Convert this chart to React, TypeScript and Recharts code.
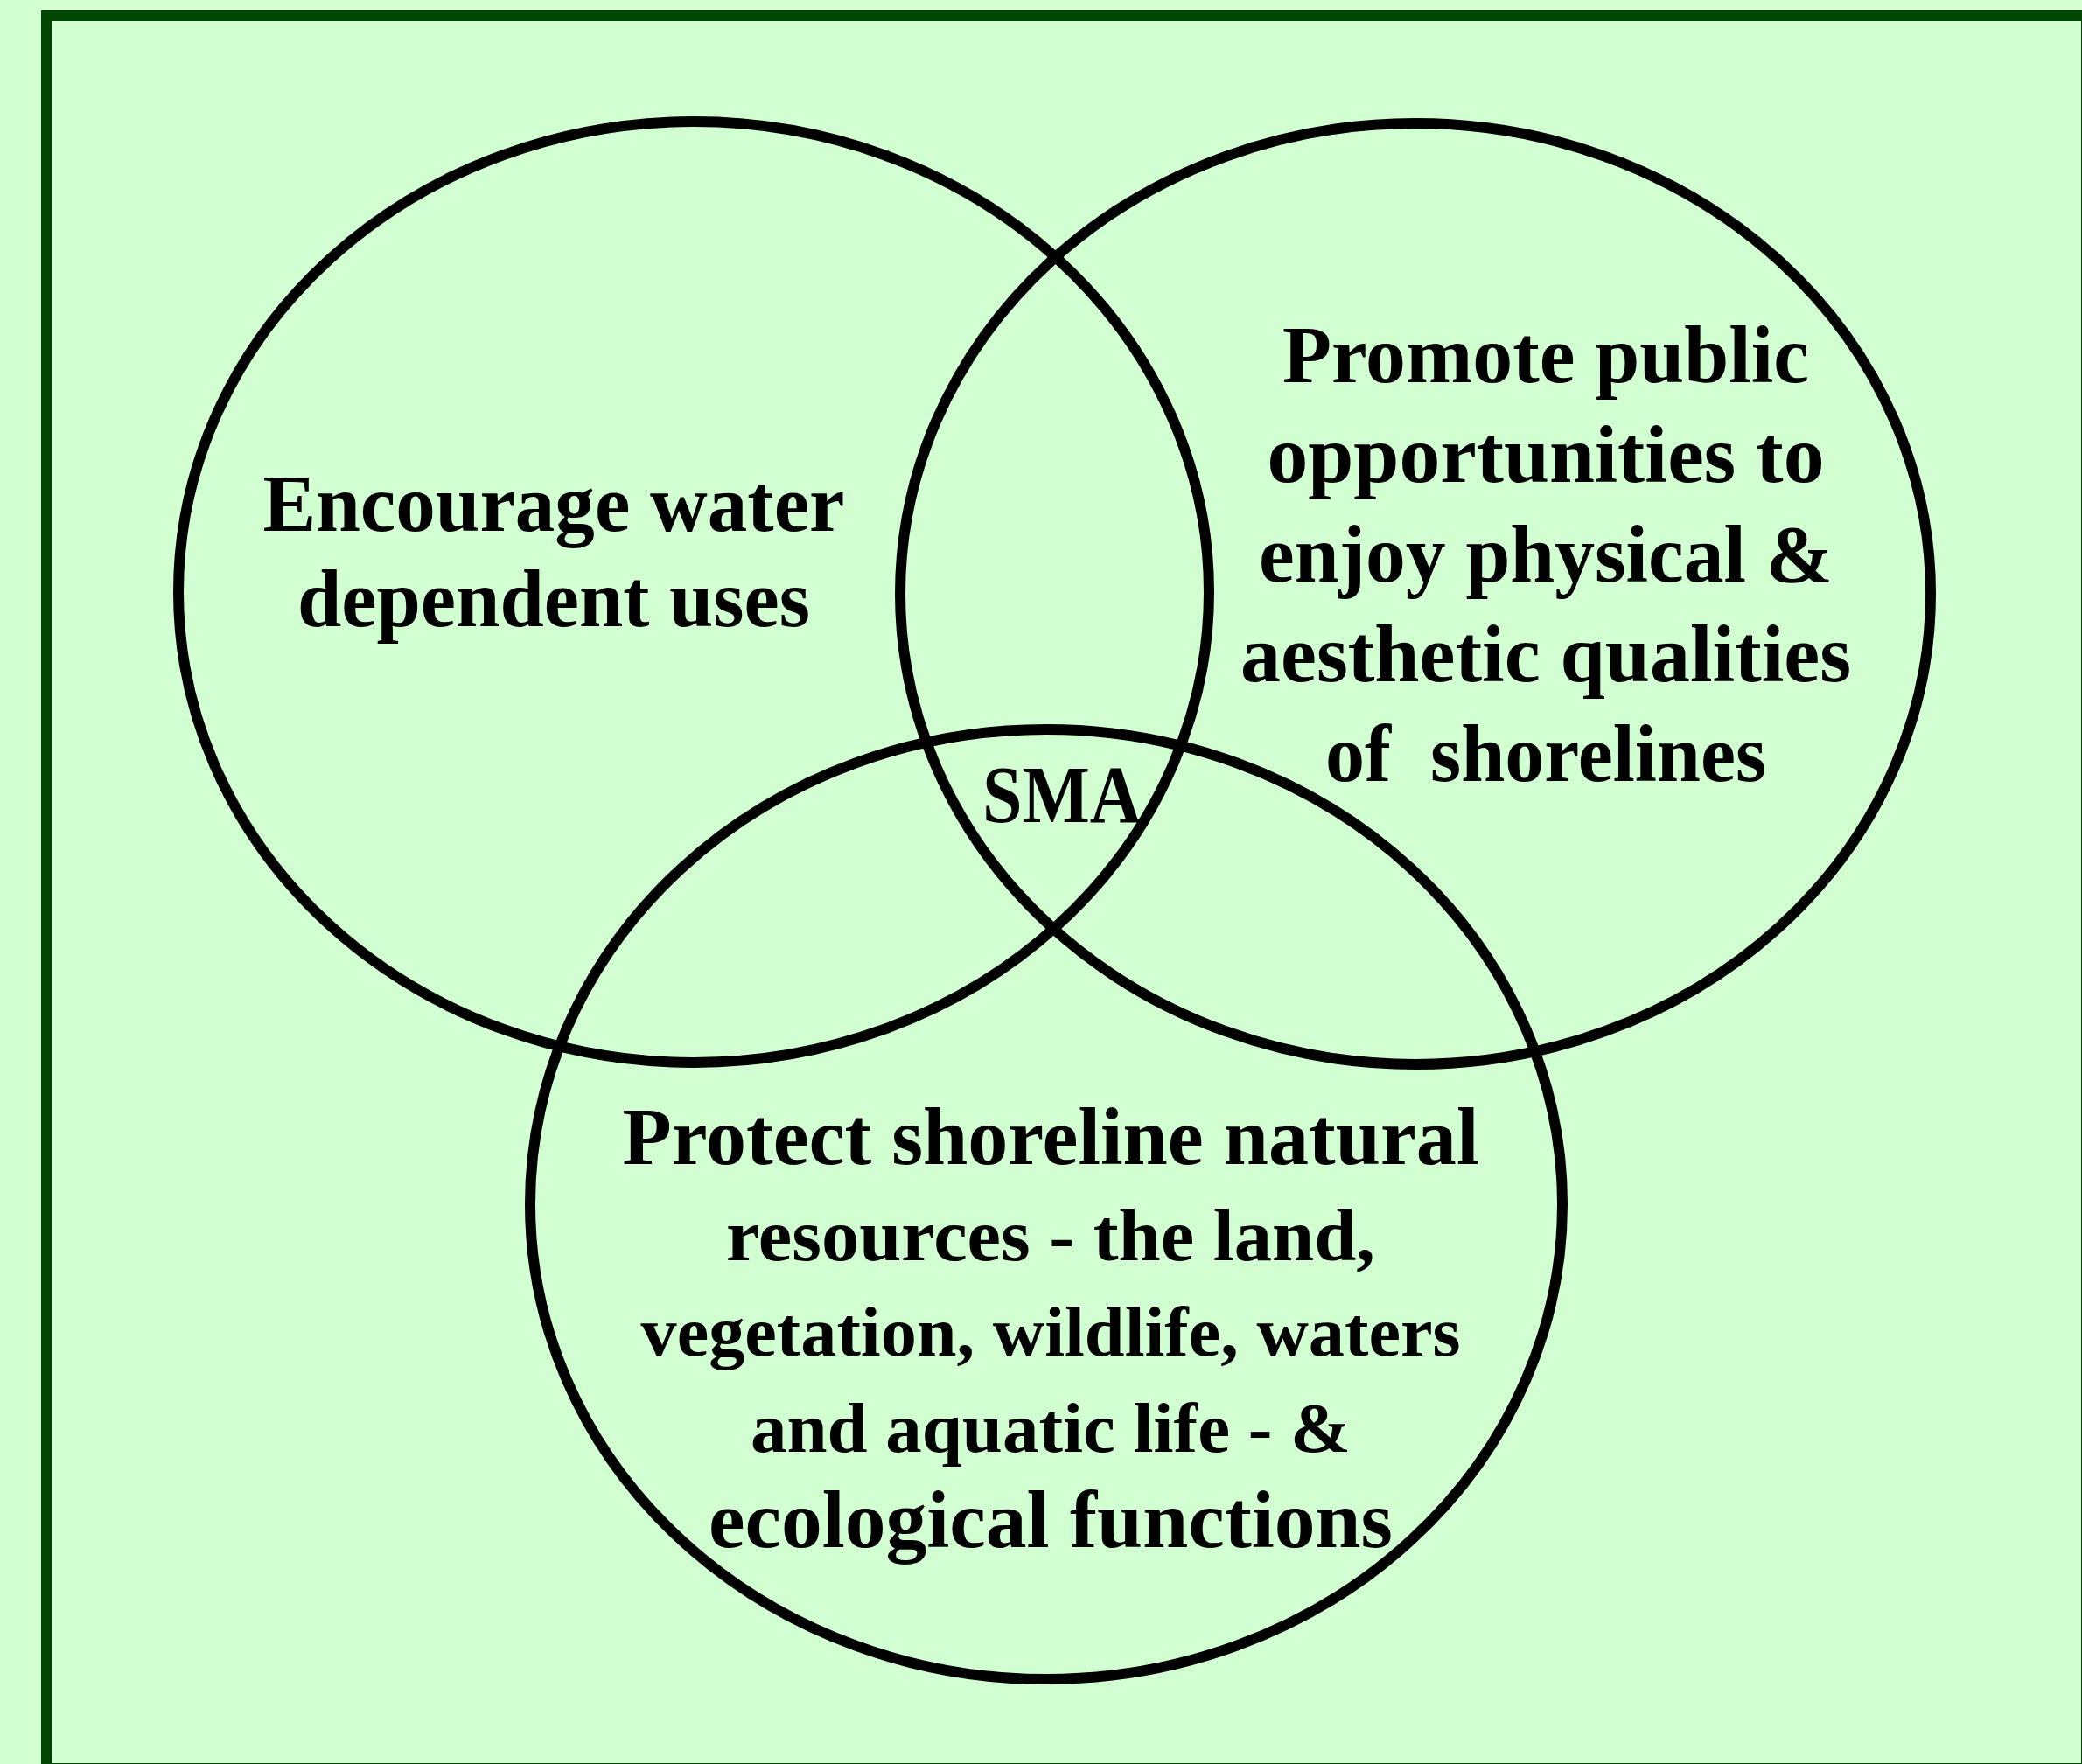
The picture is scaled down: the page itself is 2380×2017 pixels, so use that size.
import React from 'react';
import { ScatterChart, Scatter, XAxis, YAxis } from 'recharts';

// ---- Data: the three Venn sets (centre and radii, in diagram units) ----
const setIds = ['water', 'public', 'natural'];
const setCenterX = [793, 1618, 1196];
const setCenterY = [677, 679, 1377];
const setRadiusX = [589, 589, 590];
const setRadiusY = [538, 538, 543];

// ---- Data: label texts ----
const waterLines = ['Encourage water', 'dependent uses'];
const publicLines = [
  'Promote public',
  'opportunities to',
  'enjoy physical &',
  'aesthetic qualities',
  'of  shorelines',
];
const naturalLines = [
  'Protect shoreline natural',
  'resources - the land,',
  'vegetation, wildlife, waters',
  'and aquatic life - &',
  'ecological functions',
];
const centreLines = ['SMA'];

// ---- Layout (positions / sizes / styles) ----
const W = 2380;
const H = 2017;
const BG = '#d2ffd2';
const FRAME = '#004600';
const FONT = '"Liberation Serif", "Times New Roman", serif';

const LABEL_LAYOUT = [
  { lines: waterLines, x: 633, y: 607, step: 109, widths: [665, 586], sizes: [94, 94] },
  {
    lines: publicLines,
    x: 1767,
    y: 437,
    step: 114,
    widths: [602, 637, 656, 698, 504],
    sizes: [94, 94, 94, 94, 94],
  },
  { lines: centreLines, x: 1214, y: 940, step: 0, widths: [182], sizes: [94] },
  {
    lines: naturalLines,
    x: 1201,
    y: 1331,
    step: 109.5,
    widths: [979, 742, 937, 686, 782],
    sizes: [94, 84, 80, 80, 94],
  },
];

const vennData = setIds.map((id, i) => ({
  id,
  x: setCenterX[i],
  y: setCenterY[i],
  rx: setRadiusX[i],
  ry: setRadiusY[i],
}));

const labelData = LABEL_LAYOUT.map((l) => ({ ...l }));

// chart units -> pixels (domain equals plot size, so scale is 1 px per unit)
const SX = 1;
const SY = 1;

const EllipseShape = (props: any) => {
  const { cx, cy, payload } = props;
  if (cx == null || cy == null) return null;
  return (
    <ellipse
      cx={cx}
      cy={cy}
      rx={payload.rx * SX}
      ry={payload.ry * SY}
      fill="none"
      stroke="#000"
      strokeWidth={12}
    />
  );
};

const LabelShape = (props: any) => {
  const { cx, cy, payload } = props;
  if (cx == null || cy == null) return null;
  return (
    <g>
      {payload.lines.map((line: string, i: number) => (
        <text
          key={i}
          x={cx}
          y={cy + i * payload.step * SY}
          textAnchor="middle"
          fontFamily={FONT}
          fontWeight="bold"
          fontSize={payload.sizes[i]}
          fill="#000"
          textLength={payload.widths[i]}
          lengthAdjust="spacingAndGlyphs"
          style={{ whiteSpace: 'pre' }}
        >
          {line}
        </text>
      ))}
    </g>
  );
};

export default function App() {
  return (
    <div
      style={{
        position: 'absolute',
        left: 0,
        top: 0,
        width: W,
        height: H,
        overflow: 'hidden',
        background: BG,
      }}
    >
      <div
        style={{
          position: 'absolute',
          left: 47,
          top: 12,
          width: 2320,
          height: 1992,
          border: `12px solid ${FRAME}`,
        }}
      />
      <div style={{ position: 'absolute', left: 0, top: 0 }}>
        <ScatterChart width={W} height={H} margin={{ top: 0, right: 0, bottom: 0, left: 0 }}>
          <XAxis type="number" dataKey="x" domain={[0, W]} hide allowDataOverflow />
          <YAxis type="number" dataKey="y" domain={[0, H]} reversed hide allowDataOverflow />
          <Scatter data={vennData} shape={EllipseShape} isAnimationActive={false} />
          <Scatter data={labelData} shape={LabelShape} isAnimationActive={false} />
        </ScatterChart>
      </div>
    </div>
  );
}
